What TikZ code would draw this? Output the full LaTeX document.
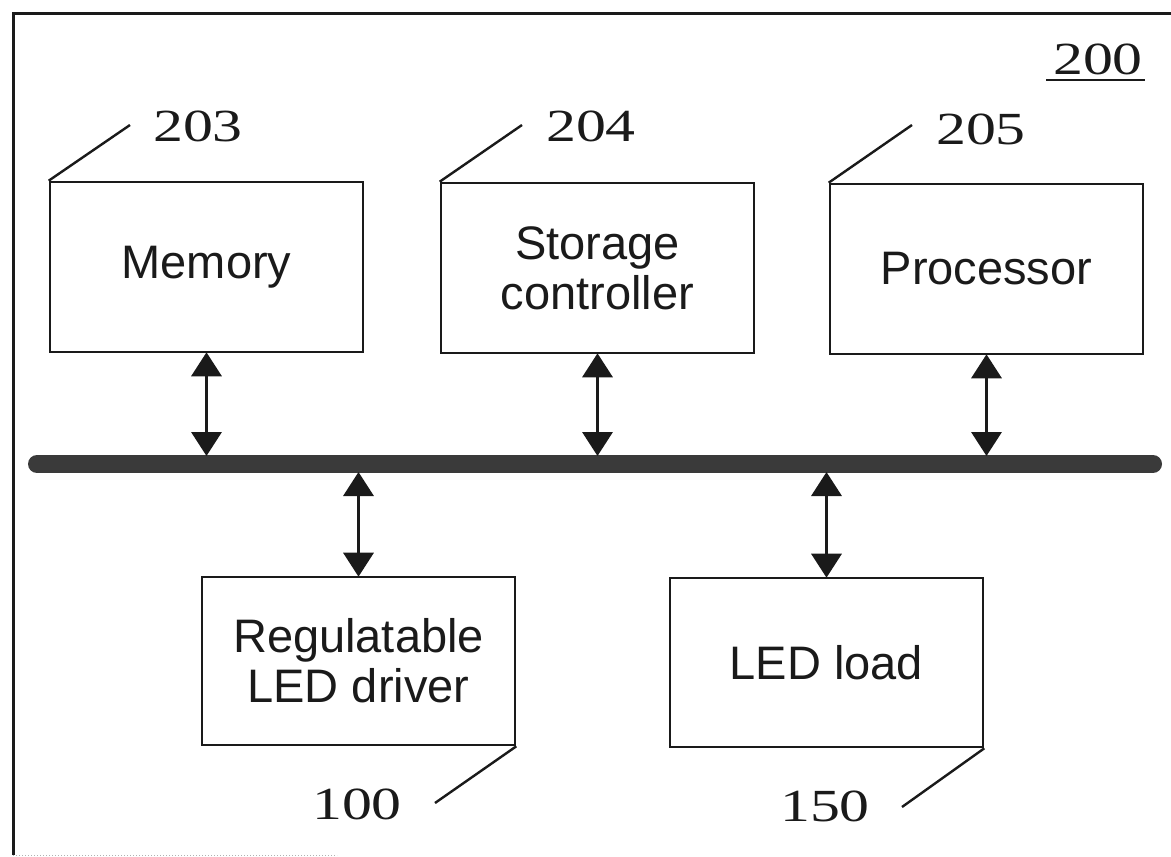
\documentclass[tikz,border=0pt]{standalone}
\usepackage{fontspec}
\setmainfont{Liberation Serif}
\setsansfont{Liberation Sans}
\usetikzlibrary{arrows.meta}
\definecolor{ink}{HTML}{1A1A1A}
\definecolor{busgray}{HTML}{3A3A3A}
\tikzset{
  blk/.style={draw=ink, line width=2.6pt, minimum width=313pt, minimum height=170pt, inner sep=0pt,
    align=center, font=\sffamily\fontsize{47}{50}\selectfont, text=ink},
  numlbl/.style={font=\fontsize{46}{50}\selectfont, xscale=1.3, text=ink, inner sep=0pt},
  leader/.style={draw=ink, line width=2.4pt},
  arr/.style={draw=ink, line width=3.5pt, {Triangle[width=30pt,length=24pt]}-{Triangle[width=30pt,length=24pt]}, shorten <=-1pt, shorten >=-1pt},
}
\begin{document}
\begin{tikzpicture}[x=1pt,y=-1pt]
\useasboundingbox (0,0) rectangle (1171,857);
\fill[white] (0,0) rectangle (1171,857);
% frame
\draw[ink, line width=3pt] (13,855) -- (13,13) -- (1171,13);
\draw[gray!60, line width=1pt, dotted] (13,855) -- (337,855);
\node[numlbl] (n200) at (1098,59) {200};
\draw[ink, line width=2pt] (1046,80) -- (1145,80);
% top blocks
\node[blk] (mem) at (206.5,267) {Memory};
\node[blk] (sto) at (597.5,268) {Storage\\controller};
\node[blk] (pro) at (986.5,269) {Processor};
% bottom blocks
\node[blk, minimum height=168pt] (drv) at (358.5,661) {Regulatable\\LED driver};
\node[blk, minimum height=169pt] (led) at (826.5,662.5) {LED load};
% labels
\coordinate (c203) at (130,125);
\coordinate (c204) at (522,125);
\coordinate (c205) at (912,125);
\coordinate (c100) at (435,803);
\coordinate (c150) at (902,807);
\node[numlbl] (n203) at (198,126) {203};
\node[numlbl] (n204) at (591,126) {204};
\node[numlbl] (n205) at (981,129) {205};
\node[numlbl] (n100) at (357,804) {100};
\node[numlbl] (n150) at (825,806) {150};
\draw[leader] (mem.north west) -- (c203);
\draw[leader] (sto.north west) -- (c204);
\draw[leader] (pro.north west) -- (c205);
\draw[leader] (drv.south east) -- (c100);
\draw[leader] (led.south east) -- (c150);
% bus
\coordinate (busL) at (37,464);
\coordinate (busR) at (1153,464);
\coordinate (busT) at (0,455);
\coordinate (busB) at (0,473);
\draw[busgray, line width=18pt, line cap=round] (busL) -- (busR);
% arrows
\draw[arr] (mem.south) -- (mem.south |- busT);
\draw[arr] (sto.south) -- (sto.south |- busT);
\draw[arr] (pro.south) -- (pro.south |- busT);
\draw[arr] (drv.north) -- (drv.north |- busB);
\draw[arr] (led.north) -- (led.north |- busB);
\end{tikzpicture}
\end{document}
